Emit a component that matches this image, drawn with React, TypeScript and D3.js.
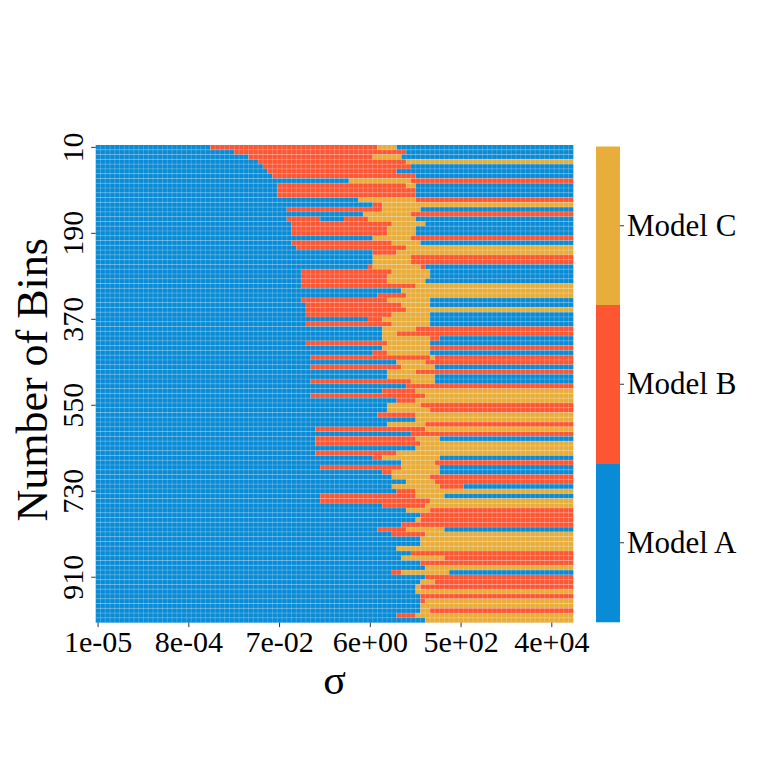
import * as d3 from "d3";

// which model wins per (bins, sigma) cell.
// each token = model letter + last column index (inclusive) of that run
const MODELS = ["Model A", "Model B", "Model C"];
const MODEL_COLORS = ["#0a8bd5", "#fd5633", "#e8ad3a"];

const BINS = d3.range(10, 1001, 10);
const SIGMAS = d3.range(100).map((i) => Math.pow(10, -5 + (i * 10) / 99));

const Y_TICK_LABELS = [10, 190, 370, 550, 730, 910];
const X_TICK_INDEX = [0, 19, 38, 57, 76, 95];
const X_TICK_LABELS = ["1e-05", "8e-04", "7e-02", "6e+00", "5e+02", "4e+04"];

const ROWS = [
  "A23 B58 C62 A99",
  "A28 B64 A99",
  "A31 B57 C63 A99",
  "A33 B64 C99",
  "A34 B65 A99",
  "A35 B62 A99",
  "A36 B66 A99",
  "A52 C65 B99",
  "A37 B64 C66 A99",
  "A37 B66 A99",
  "A37 B66 A99",
  "A54 C66 B99",
  "A57 B59 C99",
  "A39 B59 C67 A99",
  "A55 C65 B99",
  "A39 B46 A51 B56 C66 A99",
  "A40 B61 C68 A99",
  "A40 B60 C66 A99",
  "A40 B60 C66 A99",
  "A57 C65 B99",
  "A40 B61 C67 A99",
  "A41 B64 C99",
  "A57 B62 C99",
  "A57 C65 B99",
  "A57 C65 B99",
  "A56 B57 C67 B68 A99",
  "A42 B61 C69 A99",
  "A42 B60 C69 A99",
  "A42 B60 C68 A99",
  "A42 B66 C99",
  "A63 C99",
  "A58 B64 C99",
  "A42 B60 C69 A99",
  "A43 B63 C69 A99",
  "A43 B64 C99",
  "A43 B61 C69 A99",
  "A56 B59 C69 A99",
  "A43 B61 C69 A99",
  "A59 C66 B99",
  "A59 C62 B99",
  "A59 C69 B71 A99",
  "A43 B60 C69 A99",
  "A59 C69 B99",
  "A57 B60 C69 A99",
  "A44 B69 C70 B99",
  "A62 C68 B99",
  "A44 B63 C70 A99",
  "A60 C66 B99",
  "A60 C70 A99",
  "A44 B65 C70 A99",
  "A64 B99",
  "A59 B66 C99",
  "A44 B68 C99",
  "A62 B66 C99",
  "A60 C67 B99",
  "A60 C69 B99",
  "A58 B66 C99",
  "A66 C99",
  "A60 C68 B99",
  "A45 B68 C99",
  "A65 B99",
  "A45 B66 C71 A99",
  "A45 B67 C99",
  "A66 C99",
  "A45 B62 C99",
  "A57 B59 C71 A99",
  "A63 C70 B99",
  "A46 B63 C71 A99",
  "A59 B61 C71 A99",
  "A61 C69 B99",
  "A64 C70 B99",
  "A61 C71 B76 A99",
  "A62 B66 C99",
  "A46 B66 C72 A99",
  "A46 B69 C99",
  "A59 B68 C99",
  "A64 C69 B99",
  "A67 B99",
  "A66 C67 B99",
  "A63 B99",
  "A58 B64 C72 A99",
  "A61 B68 C99",
  "A67 C99",
  "A67 C99",
  "A62 C99",
  "A65 B99",
  "A63 C72 B99",
  "A67 B99",
  "A68 C99",
  "A61 B63 C73 A99",
  "A68 B99",
  "A67 C70 B99",
  "A66 C67 B99",
  "A66 C99",
  "A67 B99",
  "A67 B68 C99",
  "A67 C99",
  "A67 C69 B99",
  "A62 B66 C99",
  "A68 C99",
];

const FONT = "'Liberation Serif', 'Times New Roman', serif";

interface Run {
  row: number;
  model: number;
  start: number;
  end: number;
}

function parseRuns(): Run[] {
  return ROWS.flatMap((line, row) => {
    let start = 0;
    return line.split(" ").map((tok) => {
      const end = +tok.slice(1);
      const run = { row, model: "ABC".indexOf(tok[0]), start, end };
      start = end + 1;
      return run;
    });
  });
}

export default function App() {
  const width = 761;
  const height = 761;

  const x = d3
    .scaleBand<number>()
    .domain(d3.range(SIGMAS.length))
    .range([95.7, 573.3]);
  const y = d3.scaleBand<number>().domain(BINS).range([145, 622.6]);
  const cw = x.bandwidth();
  const ch = y.bandwidth();

  const cb = d3
    .scaleBand<string>()
    .domain([...MODELS].reverse())
    .range([146.5, 622]);

  const runs = parseRuns();
  const [x0, x1] = x.range();
  const [y0, y1] = y.range();

  return (
    <div style={{ position: "absolute", left: 0, top: 0 }}>
      <svg width={width} height={height} style={{ display: "block", background: "#fff" }}>
        {/* heatmap runs */}
        <g>
          {runs.map((d, i) => (
            <rect
              key={i}
              x={x(d.start)!}
              y={y(BINS[d.row])!}
              width={(d.end - d.start + 1) * cw + 0.05}
              height={ch + 0.05}
              fill={MODEL_COLORS[d.model]}
            />
          ))}
        </g>

        {/* thin cell borders */}
        <g stroke="#ffffff" strokeOpacity={0.3} strokeWidth={0.7}>
          {d3.range(1, SIGMAS.length).map((i) => (
            <line key={"v" + i} x1={x(i)!} x2={x(i)!} y1={y0} y2={y1} />
          ))}
          {BINS.slice(1).map((b) => (
            <line key={"h" + b} x1={x0} x2={x1} y1={y(b)!} y2={y(b)!} />
          ))}
        </g>

        {/* y axis */}
        <g fontFamily={FONT} fontSize={30} fill="#000">
          {Y_TICK_LABELS.map((b) => {
            const yc = y(b)! + ch / 2;
            return (
              <g key={b}>
                <line x1={x0 - 4.5} x2={x0} y1={yc} y2={yc} stroke="#333" strokeWidth={1} />
                <text transform={`translate(83,${yc}) rotate(-90)`} textAnchor="middle">
                  {b}
                </text>
              </g>
            );
          })}
          <text
            transform={`translate(47,${(y0 + y1) / 2 - 4}) rotate(-90)`}
            textAnchor="middle"
            fontSize={44}
          >
            Number of Bins
          </text>
        </g>

        {/* x axis */}
        <g fontFamily={FONT} fontSize={30} fill="#000">
          {X_TICK_INDEX.map((idx, k) => {
            const xc = x(idx)! + cw / 2;
            return (
              <g key={idx}>
                <line x1={xc} x2={xc} y1={y1} y2={y1 + 4.5} stroke="#333" strokeWidth={1} />
                <text x={xc} y={652} textAnchor="middle">
                  {X_TICK_LABELS[k]}
                </text>
              </g>
            );
          })}
          <text x={(x0 + x1) / 2} y={694} textAnchor="middle" fontSize={42}>
            σ
          </text>
        </g>

        {/* colorbar */}
        <g fontFamily={FONT} fontSize={31} fill="#000">
          {cb.domain().map((m) => {
            const color = MODEL_COLORS[MODELS.indexOf(m)];
            const yc = cb(m)! + cb.bandwidth() / 2;
            return (
              <g key={m}>
                <rect x={596} y={cb(m)!} width={24} height={cb.bandwidth() + 0.3} fill={color} />
                <line x1={620} x2={624} y1={yc} y2={yc} stroke="#333" strokeWidth={1} />
                <text x={627} y={yc + 10}>
                  {m}
                </text>
              </g>
            );
          })}
        </g>
      </svg>
    </div>
  );
}
